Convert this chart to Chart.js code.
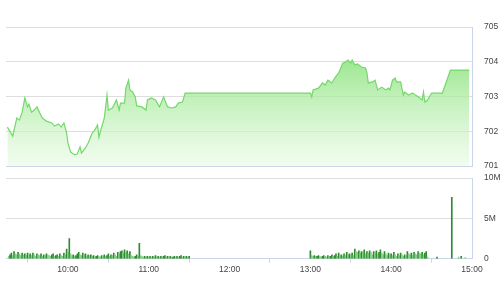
<!DOCTYPE html>
<html>
<head>
<meta charset="utf-8">
<script src="https://cdn.jsdelivr.net/npm/chart.js@4.4.0/dist/chart.umd.min.js"></script>
<style>
  html, body { margin: 0; padding: 0; background: #fff; }
  #wrap { position: relative; width: 501px; height: 300px; }
  #wrap canvas { position: absolute; left: 0; top: 0; }
</style>
</head>
<body>
<div id="wrap">
  <canvas id="priceChart" width="501" height="300"></canvas>
  <canvas id="volChart" width="501" height="300"></canvas>
</div>
<script>
// price (index points)
const priceTimes = [
  "9:15", "9:19", "9:22", "9:24", "9:26", "9:28", "9:30", "9:31", "9:33", "9:35",
  "9:37", "9:39", "9:41", "9:44", "9:48", "9:50", "9:53", "9:55", "9:57", "9:59",
  "10:00", "10:02", "10:05", "10:07", "10:09", "10:10", "10:13", "10:15", "10:18", "10:20",
  "10:22", "10:23", "10:25", "10:27", "10:29", "10:30", "10:33", "10:36", "10:38", "10:39",
  "10:42", "10:43", "10:45", "10:46", "10:48", "10:50", "10:51", "10:55", "10:58", "10:59",
  "11:02", "11:05", "11:08", "11:11", "11:14", "11:17", "11:20", "11:22", "11:25", "11:27",
  "11:30", "13:00", "13:01", "13:02", "13:06", "13:09", "13:11", "13:13", "13:16", "13:18",
  "13:21", "13:24", "13:26", "13:28", "13:30", "13:31", "13:33", "13:35", "13:38", "13:41",
  "13:42", "13:43", "13:46", "13:48", "13:50", "13:53", "13:56", "13:58", "13:59", "14:01",
  "14:03", "14:04", "14:07", "14:09", "14:10", "14:13", "14:16", "14:18", "14:20", "14:23",
  "14:24", "14:25", "14:27", "14:30", "14:38", "14:44", "14:58"
];
const priceValues = [
  702.12, 701.86, 702.38, 702.32, 702.55, 702.96, 702.70, 702.78, 702.55, 702.61,
  702.70, 702.53, 702.38, 702.29, 702.24, 702.15, 702.21, 702.12, 702.24, 701.95,
  701.66, 701.40, 701.32, 701.35, 701.55, 701.37, 701.52, 701.66, 701.95, 702.04,
  702.18, 701.83, 702.12, 702.38, 703.04, 702.61, 702.67, 702.90, 702.61, 702.81,
  702.81, 703.24, 703.47, 703.19, 703.13, 702.99, 702.73, 702.70, 702.61, 702.90,
  702.96, 702.90, 702.70, 702.99, 702.70, 702.67, 702.70, 702.81, 702.84, 703.10,
  703.10, 703.10, 702.99, 703.19, 703.24, 703.39, 703.33, 703.47, 703.39, 703.53,
  703.68, 703.96, 703.99, 704.05, 703.96, 704.05, 703.91, 703.94, 703.85, 703.82,
  703.68, 703.39, 703.42, 703.47, 703.19, 703.27, 703.19, 703.24, 703.19, 703.47,
  703.53, 703.42, 703.42, 703.04, 703.13, 703.04, 703.10, 703.04, 702.99, 702.90,
  703.13, 702.84, 702.90, 703.10, 703.10, 703.76, 703.76
];

// volume in millions, one bar per minute
const volMorningStart = "9:16";
const volMorning = [
  0.3, 0.5, 0.7, 0.4, 0.9, 0.6, 0.5, 0.8, 0.6, 0.4, 0.7, 0.5, 0.6, 0.4, 0.7,
  0.5, 0.6, 0.4, 0.7, 0.5, 0.3, 0.6, 0.5, 0.4, 0.6, 0.3, 0.5, 0.4, 0.6, 0.5,
  0.4, 0.3, 0.5, 0.6, 0.3, 0.4, 0.5, 0.3, 0.6, 0.4, 0.3, 0.7, 0.5, 1.2, 0.8,
  2.5, 0.6, 0.4, 0.5, 0.3, 0.4, 0.6, 0.8, 0.5, 0.4, 0.7, 0.5, 0.6, 0.3, 0.5,
  0.4, 0.5, 0.3, 0.4, 0.2, 0.3, 0.4, 0.3, 0.2, 0.4, 0.3, 0.5, 0.3, 0.4, 0.6,
  0.3, 0.5, 0.4, 0.7, 0.5, 0.3, 0.8, 0.6, 0.9, 1.0, 0.7, 1.1, 0.8, 1.0, 0.6,
  0.9, 0.4, 0.3, 0.2, 0.3, 0.5, 0.3, 1.9, 0.4, 0.3, 0.2, 0.3, 0.2, 0.3, 0.2,
  0.3, 0.2, 0.3, 0.2, 0.4, 0.2, 0.3, 0.2, 0.3, 0.2, 0.3, 0.4, 0.2, 0.3, 0.2,
  0.3, 0.2, 0.2, 0.3, 0.2, 0.3, 0.2, 0.3, 0.4, 0.2, 0.3, 0.2, 0.3, 0.2, 0.3
];
const volAfternoonStart = "13:00";
const volAfternoon = [
  1.0, 0.4, 0.3, 0.4, 0.3, 0.3, 0.4, 0.3, 0.2, 0.3, 0.4, 0.3, 0.2, 0.4, 0.3,
  0.3, 0.5, 0.3, 0.4, 0.6, 0.3, 0.7, 0.4, 0.5, 0.3, 0.6, 0.4, 0.8, 0.5, 0.6,
  0.5, 0.7, 0.4, 1.2, 0.9, 0.8, 1.0, 0.7, 0.9, 0.8, 1.1, 0.6, 0.9, 0.7, 1.0,
  0.8, 0.5, 0.9, 0.7, 1.0, 0.6, 0.8, 1.1, 0.7, 0.5, 0.9, 0.6, 0.4, 0.7, 0.5,
  0.6, 0.4, 0.8, 0.5, 0.3, 0.6, 0.4, 0.7, 0.5, 0.3, 0.5, 0.4, 0.9, 0.6, 0.5,
  0.7, 0.4, 0.8, 0.6, 0.5, 0.9, 0.7, 0.6, 0.8, 0.5, 0.7, 0.9, 0.2
];
const volLateTimes = ["14:34", "14:45", "14:50", "14:52", "14:55"];
const volLate = [0.2, 7.6, 0.2, 0.3, 0.15];

const timeTicks = ["10:00", "11:00", "12:00", "13:00", "14:00", "15:00"];
const priceTicks = [701, 702, 703, 704, 705];
const volTicks = [0, 5, 10];

function toMin(t) {
  const p = t.split(":");
  return parseInt(p[0]) * 60 + parseInt(p[1]);
}
function fmtTime(m) {
  const h = Math.floor(m / 60), mm = m % 60;
  return h + ":" + (mm < 10 ? "0" : "") + mm;
}

const xMin = toMin("9:14");
const xMax = toMin("15:00");
const axisFont = { family: "'Liberation Sans', Arial, sans-serif", size: 8.5 };
const axisColor = "#ccd6eb";
const gridColor = "#dedede";
const labelColor = "#444";

function fixWidth(scale) { scale.width = 29; }

const pricePoints = priceTimes.map((t, i) => ({ x: toMin(t), y: priceValues[i] }));

let volPoints = [];
volMorning.forEach((v, i) => volPoints.push({ x: toMin(volMorningStart) + i, y: v }));
volAfternoon.forEach((v, i) => volPoints.push({ x: toMin(volAfternoonStart) + i, y: v }));
volLateTimes.forEach((t, i) => volPoints.push({ x: toMin(t), y: volLate[i] }));

const volColors = volPoints.map((p, i) =>
  (i > 0 && p.y >= volPoints[i - 1].y) ? "#2e8b2e" : "#86cf86");

new Chart(document.getElementById("priceChart"), {
  type: "line",
  data: {
    datasets: [{
      data: pricePoints,
      borderColor: "#74d86c",
      borderWidth: 1.2,
      pointRadius: 0,
      tension: 0,
      fill: "start",
      backgroundColor: (ctx) => {
        const area = ctx.chart.chartArea;
        if (!area) return "rgba(150,228,140,0.5)";
        const g = ctx.chart.ctx.createLinearGradient(0, area.top + 25, 0, area.bottom);
        g.addColorStop(0, "rgba(136,226,122,0.9)");
        g.addColorStop(1, "rgba(230,250,225,0.55)");
        return g;
      },
    }],
  },
  options: {
    responsive: false,
    animation: false,
    layout: { padding: { top: 27, left: 6, right: 0, bottom: 134 } },
    plugins: { legend: { display: false }, tooltip: { enabled: false } },
    scales: {
      x: {
        type: "linear",
        min: xMin,
        max: xMax,
        ticks: { display: false },
        grid: { display: false, drawTicks: false },
        border: { display: true, color: axisColor },
      },
      y: {
        position: "right",
        min: 701,
        max: 705,
        afterFit: fixWidth,
        afterBuildTicks: (scale) => { scale.ticks = priceTicks.map((v) => ({ value: v })); },
        ticks: { padding: 12, color: labelColor, font: axisFont },
        grid: { color: gridColor, drawTicks: false },
        border: { display: true, color: axisColor },
      },
    },
  },
});

new Chart(document.getElementById("volChart"), {
  type: "bar",
  data: {
    datasets: [{
      data: volPoints,
      backgroundColor: volColors,
      barThickness: 1,
    }],
  },
  options: {
    responsive: false,
    animation: false,
    layout: { padding: { top: 178, left: 6, right: 0, bottom: 23 } },
    plugins: { legend: { display: false }, tooltip: { enabled: false } },
    scales: {
      x: {
        type: "linear",
        min: xMin,
        max: xMax,
        offset: false,
        afterBuildTicks: (scale) => { scale.ticks = timeTicks.map((t) => ({ value: toMin(t) })); },
        ticks: {
          padding: 2,
          color: labelColor,
          font: axisFont,
          maxRotation: 0,
          callback: (v) => fmtTime(v),
        },
        grid: { display: true, drawOnChartArea: false, drawTicks: true, tickLength: 4, color: axisColor },
        border: { display: true, color: axisColor },
      },
      y: {
        position: "right",
        min: 0,
        max: 10,
        afterFit: fixWidth,
        afterBuildTicks: (scale) => { scale.ticks = volTicks.map((v) => ({ value: v })); },
        ticks: {
          padding: 12,
          color: labelColor,
          font: axisFont,
          callback: (v) => (v === 0 ? "0" : v + "M"),
        },
        grid: { color: gridColor, drawTicks: false },
        border: { display: true, color: axisColor },
      },
    },
  },
});
</script>
</body>
</html>
